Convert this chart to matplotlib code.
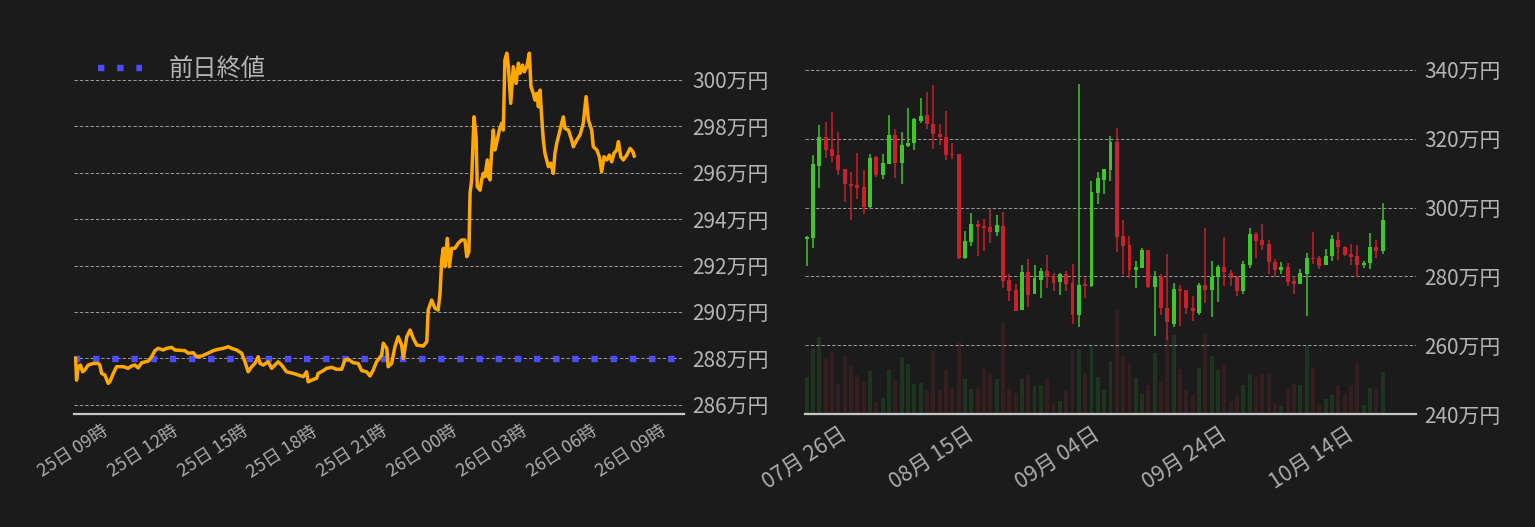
import matplotlib.pyplot as plt
import numpy as np
import pandas as pd

# ---- left: intraday price (hours counted from 25日 00:00, price in 万円)
hours = [7.44, 7.48, 7.55, 7.65, 7.74, 7.84, 7.98, 8.20, 8.41, 8.48, 8.56, 8.70, 8.84, 8.91,
         9.06, 9.20, 9.49, 9.70, 9.85, 9.99, 10.13, 10.28, 10.56, 10.71, 10.85, 10.99, 11.21,
         11.35, 11.57, 11.71, 12.14, 12.28, 12.50, 12.64, 12.86, 13.07, 13.36, 13.57, 13.79,
         14.00, 14.15, 14.36, 14.58, 14.72, 14.86, 15.01, 15.15, 15.29, 15.37, 15.51, 15.72,
         15.87, 16.01, 16.15, 16.30, 16.51, 16.80, 17.01, 17.23, 17.37, 17.44, 17.66, 17.80,
         17.87, 18.09, 18.23, 18.45, 18.66, 18.88, 19.02, 19.16, 19.38, 19.59, 19.74, 19.95,
         20.10, 20.24, 20.38, 20.60, 20.67, 20.82, 20.88, 21.03, 21.17, 21.31, 21.46, 21.53,
         21.68, 21.82, 21.96, 22.11, 22.39, 22.54, 22.60, 22.75, 22.89, 23.03, 23.11, 23.18,
         23.25, 23.32, 23.42, 23.51, 23.61, 23.75, 23.89, 24.04, 24.18, 24.26, 24.35, 24.40,
         24.47, 24.57, 24.66, 24.71, 24.83, 24.90, 24.97, 25.04, 25.14, 25.19, 25.26, 25.33,
         25.40, 25.47, 25.57, 25.66, 25.76, 25.83, 25.90, 25.98, 26.05, 26.15, 26.26, 26.38,
         26.48, 26.55, 26.66, 26.73, 26.84, 26.95, 27.02, 27.12, 27.19, 27.27, 27.34, 27.41,
         27.48, 27.55, 27.62, 27.77, 27.87, 27.98, 28.05, 28.13, 28.27, 28.41, 28.48, 28.63,
         28.77, 28.84, 28.99, 29.13, 29.27, 29.39, 29.49, 29.63, 29.70, 29.85, 29.96, 30.06,
         30.16, 30.28, 30.39, 30.49, 30.59, 30.71, 30.78, 30.88, 30.99, 31.14, 31.28, 31.40,
         31.46]
price = [288.00, 287.06, 287.64, 287.71, 287.42, 287.50, 287.71, 287.78, 287.78, 287.71,
         287.35, 287.28, 286.92, 286.99, 287.35, 287.64, 287.64, 287.57, 287.67, 287.71,
         287.59, 287.81, 287.88, 288.07, 288.33, 288.43, 288.36, 288.43, 288.47, 288.36,
         288.33, 288.22, 288.24, 288.07, 288.10, 288.19, 288.33, 288.39, 288.43, 288.50,
         288.43, 288.36, 288.22, 287.85, 287.42, 287.64, 287.78, 288.07, 287.78, 287.71,
         287.85, 287.57, 287.71, 287.85, 287.71, 287.42, 287.35, 287.28, 287.21, 287.42,
         286.99, 287.09, 287.14, 287.35, 287.47, 287.57, 287.61, 287.53, 287.53, 287.93,
         287.96, 287.81, 287.78, 287.47, 287.42, 287.24, 287.50, 287.85, 288.14, 288.65,
         288.43, 287.64, 287.78, 288.50, 288.93, 288.57, 288.00, 288.93, 289.22, 288.86,
         288.57, 288.53, 288.72, 290.08, 290.51, 290.16, 290.08, 290.80, 292.24, 292.74,
         291.95, 293.17, 291.95, 292.74, 292.74, 292.96, 293.10, 293.10, 292.38, 292.59,
         295.11, 295.69, 298.41, 297.55, 295.40, 295.25, 295.69, 295.97, 295.83, 296.55,
         295.83, 295.69, 296.98, 297.84, 296.98, 297.41, 297.84, 298.13, 297.84, 300.86,
         301.15, 300.57, 298.99, 300.57, 299.85, 300.72, 300.28, 300.64, 300.35, 300.57,
         301.15, 299.71, 299.42, 299.13, 299.42, 298.84, 299.56, 298.41, 297.41, 296.84,
         296.26, 296.41, 295.97, 296.84, 297.27, 297.84, 298.41, 297.91, 297.84, 297.41,
         297.12, 297.41, 297.63, 298.13, 299.28, 298.27, 297.84, 297.12, 296.98, 296.69,
         296.04, 296.69, 296.55, 296.76, 296.47, 296.84, 296.98, 297.34, 296.69, 296.55,
         296.76, 297.05, 296.91, 296.72]
prev_close = 287.96
hour_ticks = [9, 12, 15, 18, 21, 24, 27, 30, 33]
hour_labels = ["25日 09時", "25日 12時", "25日 15時", "25日 18時", "25日 21時",
               "26日 00時", "26日 03時", "26日 06時", "26日 09時"]
left_yticks = [286, 288, 290, 292, 294, 296, 298, 300]

# ---- right: daily candles (万円) and volume
start_day = "2020-07-19"
opens = [290.8, 291.1, 312.1, 320.4, 316.9, 315.2, 311.1, 306.8, 306.5, 305.9,
         300.2, 314.6, 309.5, 312.7, 321.0, 312.9, 317.9, 318.8, 325.3, 326.8,
         324.4, 321.3, 320.6, 315.5, 315.5, 285.3, 290.0, 295.2, 294.6, 294.3,
         292.9, 294.6, 278.9, 276.0, 270.3, 281.2, 275.0, 279.0, 281.5, 280.1,
         278.3, 280.7, 278.1, 268.9, 277.8, 277.2, 304.3, 308.0, 310.9, 319.2,
         291.7, 289.1, 281.9, 282.5, 287.6, 277.0, 279.7, 270.8, 266.2, 276.3,
         276.0, 270.8, 269.4, 277.5, 276.1, 279.7, 282.6, 280.9, 279.7, 275.8,
         283.4, 292.3, 290.5, 289.4, 284.1, 281.9, 282.6, 278.6, 277.8, 280.7,
         285.3, 285.2, 283.4, 286.0, 290.7, 288.4, 286.5, 285.8, 283.4, 283.8,
         288.4, 287.4]
closes = [291.5, 312.6, 320.4, 316.7, 315.0, 310.9, 306.9, 306.3, 305.7, 300.2,
          314.3, 309.5, 312.9, 321.0, 312.9, 318.1, 318.8, 325.6, 326.5, 324.3,
          321.4, 320.5, 315.3, 315.2, 285.3, 290.2, 295.2, 294.4, 294.0, 292.9,
          294.9, 278.7, 275.8, 270.0, 281.2, 274.7, 279.5, 281.5, 279.8, 278.0,
          280.7, 277.8, 268.9, 277.5, 277.3, 304.4, 308.5, 311.1, 319.2, 291.5,
          288.9, 281.9, 282.7, 287.6, 277.0, 279.7, 270.7, 266.7, 276.3, 275.8,
          270.8, 269.8, 277.5, 276.1, 279.7, 282.6, 281.2, 279.5, 275.8, 283.6,
          292.3, 290.3, 289.2, 284.1, 281.9, 282.6, 278.5, 277.8, 280.9, 285.2,
          285.0, 283.1, 286.0, 291.0, 288.4, 286.3, 285.7, 283.4, 283.9, 288.4,
          287.4, 296.5]
highs = [291.8, 315.2, 323.9, 325.0, 327.9, 322.1, 311.1, 310.2, 316.0, 310.8,
         315.5, 315.0, 315.7, 326.8, 322.7, 322.1, 328.8, 325.9, 331.7, 333.7,
         335.7, 324.4, 328.2, 318.9, 315.5, 293.1, 298.4, 296.3, 296.6, 299.5,
         297.8, 298.6, 280.7, 277.8, 283.3, 285.0, 283.3, 282.4, 286.2, 281.0,
         281.0, 281.5, 283.6, 336.0, 279.5, 307.6, 310.2, 311.1, 320.7, 323.0,
         296.3, 291.7, 284.4, 288.2, 287.6, 281.5, 280.7, 286.5, 278.1, 277.5,
         276.0, 274.3, 278.1, 294.0, 284.5, 283.3, 291.4, 281.8, 280.2, 284.4,
         294.0, 293.0, 295.2, 290.5, 285.0, 284.1, 283.8, 280.2, 282.1, 286.9,
         293.0, 285.8, 288.1, 292.0, 293.0, 288.9, 289.4, 289.2, 284.5, 292.5,
         290.5, 301.3]
lows = [283.1, 288.2, 305.7, 314.3, 313.2, 309.5, 301.6, 296.4, 302.5, 298.2,
        299.9, 308.8, 308.2, 312.7, 308.6, 306.9, 317.6, 316.7, 324.6, 322.9,
        317.1, 318.2, 313.8, 314.0, 285.0, 285.0, 288.9, 286.0, 287.3, 289.8,
        291.8, 276.6, 272.9, 269.9, 270.3, 271.2, 275.0, 273.8, 276.6, 275.8,
        274.7, 275.8, 266.3, 265.4, 273.7, 276.9, 301.1, 304.0, 307.7, 287.1,
        280.5, 279.6, 276.7, 282.5, 276.7, 262.8, 268.9, 261.6, 265.2, 265.7,
        269.0, 267.1, 268.9, 272.3, 268.1, 272.5, 277.3, 277.3, 274.2, 275.0,
        282.3, 285.2, 287.7, 280.7, 279.7, 280.7, 277.3, 274.8, 277.8, 268.6,
        283.6, 282.1, 283.4, 284.5, 284.8, 285.8, 283.4, 279.7, 282.4, 282.1,
        285.3, 286.5]
volume = [112, 195, 230, 168, 185, 90, 175, 145, 117, 97,
          129, 35, 47, 132, 102, 172, 151, 90, 93, 72,
          189, 72, 132, 78, 216, 105, 75, 78, 142, 124,
          105, 276, 75, 63, 105, 117, 84, 87, 105, 30,
          39, 69, 192, 195, 124, 203, 112, 75, 159, 313,
          175, 151, 108, 60, 87, 183, 99, 236, 238, 135,
          72, 57, 138, 240, 174, 132, 147, 39, 57, 87,
          120, 111, 120, 120, 30, 24, 75, 90, 87, 205,
          138, 30, 45, 57, 87, 57, 87, 153, 27, 78,
          75, 126]
date_ticks = ["2020-07-26", "2020-08-15", "2020-09-04", "2020-09-24", "2020-10-14"]
right_yticks = [240, 260, 280, 300, 320, 340]

BG = "#1b1b1b"
TXT = "#b4b4b4"
GRID = "#9c9c9c"
UP = "#3cc827"
DOWN = "#c8202c"
UP_VOL = "#1f341f"
DOWN_VOL = "#341e1f"

plt.rcParams["font.family"] = ["Noto Sans CJK JP", "DejaVu Sans"]

fig = plt.figure(figsize=(15.35, 5.27), dpi=100, facecolor=BG)
ax1 = fig.add_axes([0.0482, 0.2144, 0.3974, 0.7097])
ax2 = fig.add_axes([0.5244, 0.2144, 0.3980, 0.7097])
axv = ax2.twinx()


def style(ax):
    ax.set_facecolor(BG)
    for s in ("top", "left", "right"):
        ax.spines[s].set_visible(False)
    ax.spines["bottom"].set_color("#c8c8c8")
    ax.spines["bottom"].set_linewidth(1.6)
    ax.yaxis.tick_right()
    ax.tick_params(axis="y", length=0, pad=6, labelsize=15, labelcolor=TXT)
    ax.tick_params(axis="x", length=0, labelcolor="#acacac")
    ax.yaxis.grid(True, linestyle=(0, (3.5, 2)), color=GRID, linewidth=0.7)
    ax.set_axisbelow(True)


# left chart
style(ax1)
ax1.plot(hours, price, color="#ffa800", linewidth=2.5, zorder=3)
ax1.axhline(prev_close, color="#4b4bff", linewidth=4.6, linestyle=(0, (1, 2)),
            label="前日終値", zorder=2)
ax1.set_xlim(7.37, 33.6)
ax1.set_ylim(285.6, 301.72)
ax1.set_yticks(left_yticks)
ax1.set_yticklabels([f"{v}万円" for v in left_yticks])
ax1.set_xticks(hour_ticks)
ax1.set_xticklabels(hour_labels, rotation=33, ha="right", fontsize=13)
ax1.tick_params(axis="x", pad=6)
leg = ax1.legend(loc="center left", bbox_to_anchor=(0.039, 0.922), frameon=False,
                 fontsize=17.5, handlelength=1.8, handletextpad=1.1,
                 borderpad=0, borderaxespad=0)
for t in leg.get_texts():
    t.set_color(TXT)

# right chart: volume (twin axis) behind candles
days = pd.date_range(start_day, periods=len(opens), freq="D")
x = np.arange(len(opens))
up = np.array(closes) >= np.array(opens)

axv.set_zorder(0)
ax2.set_zorder(1)
ax2.patch.set_visible(False)
axv.set_facecolor(BG)
for s in axv.spines.values():
    s.set_visible(False)
axv.set_yticks([])
axv.bar(x, volume, width=0.62, color=np.where(up, UP_VOL, DOWN_VOL))
axv.set_ylim(0, 1122)

style(ax2)
for i in x:
    c = UP if up[i] else DOWN
    ax2.vlines(i, lows[i], highs[i], color=c, linewidth=1.1, zorder=3)
    lo, hi = sorted((opens[i], closes[i]))
    ax2.bar(i, max(hi - lo, 0.35), bottom=lo, width=0.62, color=c, zorder=4)

ax2.set_xlim(-0.27, 96.25)
axv.set_xlim(-0.27, 96.25)
ax2.set_ylim(240, 348.7)
ax2.set_yticks(right_yticks)
ax2.set_yticklabels([f"{v}万円" for v in right_yticks])
tick_pos = [int(np.where(days == pd.Timestamp(d))[0][0]) for d in date_ticks]
ax2.set_xticks(tick_pos)
ax2.set_xticklabels([pd.Timestamp(d).strftime("%m月 %d日") for d in date_ticks],
                    rotation=33, ha="right", fontsize=15.5)
ax2.tick_params(axis="x", pad=6.5)

fig.savefig("out.png", dpi=100, facecolor=BG)
